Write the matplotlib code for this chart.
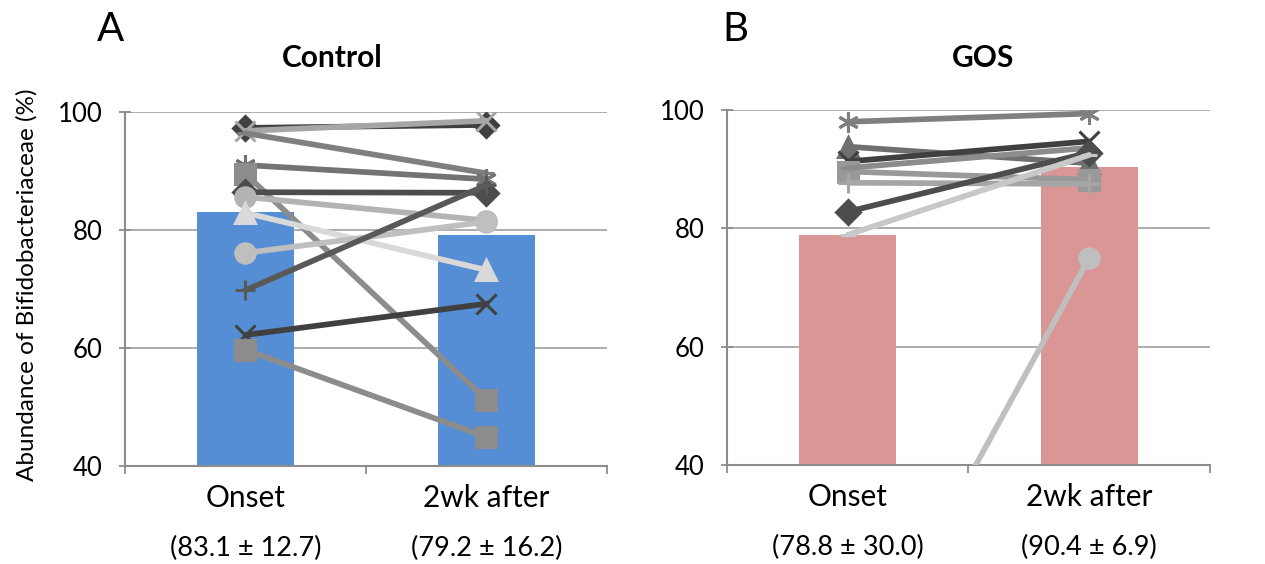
import matplotlib
matplotlib.use("Agg")
import matplotlib.pyplot as plt

plt.rcParams['font.family'] = ['Lato', 'DejaVu Sans']

groups = ['Onset', '2wk after']

# Control group: bar = mean, lines = individual subjects
ctrl_mean = [83.1, 79.2]
ctrl_sd = [12.7, 16.2]
ctrl_onset = [97.3, 96.8, 96.4, 91.0, 89.5, 86.4, 85.6, 82.9, 76.1, 69.8, 62.2, 59.7]
ctrl_2wk = [97.8, 98.5, 89.6, 88.6, 51.2, 86.3, 81.6, 73.2, 81.4, 87.6, 67.5, 44.9]

# GOS group
gos_mean = [78.8, 90.4]
gos_sd = [30.0, 6.9]
gos_onset = [98.0, 93.8, 91.3, 89.6, 90.2, 87.7, 82.8, 78.9, 0.5]
gos_2wk = [99.4, 91.0, 94.7, 88.2, 93.6, 87.5, 92.8, 92.4, 75.0]

# styles
star = (6, 2, 0)
ctrl_colors = ['#404040', '#a6a6a6', '#7f7f7f', '#737373', '#8c8c8c', '#4d4d4d',
               '#b3b3b3', '#d9d9d9', '#bfbfbf', '#595959', '#404040', '#8c8c8c']
ctrl_markers = ['D', 'x', '_', star, 's', 'D', 'o', '^', 'o', '+', 'x', 's']
gos_colors = ['#7f7f7f', '#6f6f6f', '#404040', '#999999', '#8c8c8c', '#a6a6a6',
              '#4d4d4d', '#c8c8c8', '#bfbfbf']
gos_markers = [star, '^', 'x', 's', '_', '+', 'D', '_', 'o']

msize = {'D': 12, 's': 14, 'o': 14, '^': 14, 'x': 14, '+': 14, '_': 12, star: 15}

fig = plt.figure(figsize=(12.65, 5.64), dpi=100)
axA = fig.add_axes([0.0988, 0.1738, 0.381, 0.6277])
axB = fig.add_axes([0.5747, 0.1755, 0.3818, 0.6295])


def draw(ax, means, sds, onset, after, colors, markers, barcolor):
    x = [0, 1]
    ax.bar(x, means, width=0.4, color=barcolor, zorder=2, bottom=0)
    for a, b, c, m in zip(onset, after, colors, markers):
        ax.plot(x, [a, b], color=c, lw=4.1, marker=m, ms=msize[m],
                mec=c, mfc=c, mew=2.2, zorder=3, solid_capstyle='round')
    ax.set_xlim(-0.5, 1.5)
    ax.set_ylim(40, 100)
    ax.set_yticks([40, 60, 80, 100])
    ax.set_xticks([-0.5, 0.5, 1.5])
    ax.set_xticklabels([])
    ax.yaxis.grid(True, color='#a6a6a6', lw=1.3, zorder=0)
    ax.set_axisbelow(True)
    for s in ['top', 'right']:
        ax.spines[s].set_visible(False)
    for s in ['left', 'bottom']:
        ax.spines[s].set_color('#8c8c8c')
        ax.spines[s].set_linewidth(1.5)
    ax.tick_params(axis='y', direction='inout', length=8, width=1.3,
                   color='#8c8c8c', labelsize=18.5, pad=12)
    ax.tick_params(axis='x', direction='out', length=6, width=1.3, color='#8c8c8c')
    for i, g in enumerate(groups):
        ax.text(i, -0.09, g, transform=ax.get_xaxis_transform(),
                ha='center', va='center', fontsize=21.5)
        ax.text(i, -0.232, f'({means[i]} \u00b1 {sds[i]})',
                transform=ax.get_xaxis_transform(),
                ha='center', va='center', fontsize=19.5)


draw(axA, ctrl_mean, ctrl_sd, ctrl_onset, ctrl_2wk, ctrl_colors, ctrl_markers, '#558ed5')
draw(axB, gos_mean, gos_sd, gos_onset, gos_2wk, gos_colors, gos_markers, '#d99694')

fig.text(0.087, 0.947, 'A', fontsize=29, ha='center', va='center')
fig.text(0.581, 0.947, 'B', fontsize=29, ha='center', va='center')
fig.text(0.2625, 0.897, 'Control', fontsize=21.5, fontweight='bold', ha='center', va='center')
fig.text(0.777, 0.897, 'GOS', fontsize=21.5, fontweight='bold', ha='center', va='center')
fig.text(0.0213, 0.495, 'Abundance of Bifidobacteriaceae (%)', rotation=90,
         fontsize=17.5, ha='center', va='center')

fig.savefig('out.png', dpi=100)
